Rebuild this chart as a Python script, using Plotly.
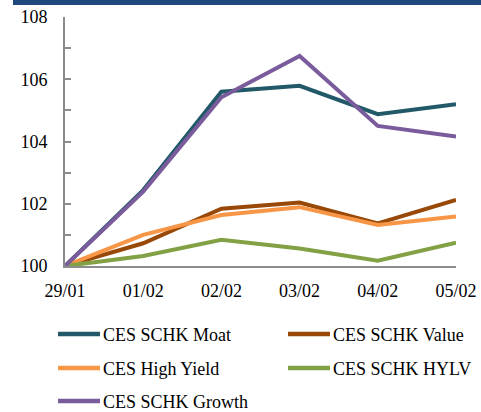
import plotly.graph_objects as go

categories = ["29/01", "01/02", "02/02", "03/02", "04/02", "05/02"]
moat = [100, 102.44, 105.60, 105.79, 104.88, 105.20]
value = [100, 100.73, 101.84, 102.04, 101.37, 102.12]
high_yield = [100, 101.00, 101.64, 101.89, 101.32, 101.59]
hylv = [100, 100.32, 100.84, 100.56, 100.17, 100.75]
growth = [100, 102.39, 105.42, 106.75, 104.50, 104.16]

names = ["CES SCHK Moat", "CES SCHK Value", "CES High Yield", "CES SCHK HYLV", "CES SCHK Growth"]
values = [moat, value, high_yield, hylv, growth]
colors = ["#215968", "#984807", "#F79646", "#82A144", "#7A5C9C"]

W, H = 481, 412
L, R, T, B = 65, 25, 17, 146
pw = W - L - R
ph = H - T - B

def py(ypx):
    return (H - B - ypx) / ph

def px(xpx):
    return (xpx - L) / pw

fig = go.Figure()
xs = list(range(len(categories)))
for name, vals, col in zip(names, values, colors):
    fig.add_trace(go.Scatter(x=xs, y=vals, name=name, mode="lines",
                             line=dict(color=col, width=4), showlegend=False))

font = dict(family="Liberation Serif, Times New Roman, DejaVu Serif, serif", size=18, color="#000000")

# legend (two columns) drawn as layout shapes + text annotations
col_x = [58, 288]
row_y = [334, 368, 401]
shapes = [dict(type="rect", xref="paper", yref="paper",
               x0=px(13), x1=px(481), y0=py(5), y1=py(0),
               fillcolor="#1F497D", line=dict(width=0), layer="above")]
annotations = []
for i, (name, col) in enumerate(zip(names, colors)):
    cx = col_x[i % 2]
    ry = row_y[i // 2]
    shapes.append(dict(type="line", xref="paper", yref="paper",
                       x0=px(cx), x1=px(cx + 42), y0=py(ry), y1=py(ry),
                       line=dict(color=col, width=4.5)))
    annotations.append(dict(text=name, xref="paper", yref="paper",
                            x=px(cx + 43), y=py(ry + 1), xanchor="left", yanchor="middle",
                            showarrow=False, font=font))

fig.update_layout(
    width=W, height=H,
    margin=dict(l=L, r=R, t=T, b=B, autoexpand=False),
    paper_bgcolor="white", plot_bgcolor="white",
    font=font,
    showlegend=False,
    xaxis=dict(range=[0, 5], tickvals=xs, ticktext=categories, showgrid=False,
               zeroline=False, showline=True, linecolor="#8C8C8C", linewidth=2,
               ticks="", tickfont=font, ticklabelstandoff=7, automargin=False),
    yaxis=dict(range=[100, 108], dtick=2, tick0=100, showgrid=False, zeroline=False,
               showline=True, linecolor="#8C8C8C", linewidth=2,
               ticks="inside", ticklen=6, tickcolor="#8C8C8C", tickwidth=1.5,
               minor=dict(dtick=1, ticks="inside", ticklen=6, tickcolor="#8C8C8C", tickwidth=1.5, showgrid=False),
               tickfont=font, ticklabelstandoff=12, automargin=False),
    shapes=shapes,
    annotations=annotations,
)
fig.write_html("out.html", config={"displayModeBar": False},
               post_script="document.body.style.margin='0';document.body.style.overflow='hidden';")
